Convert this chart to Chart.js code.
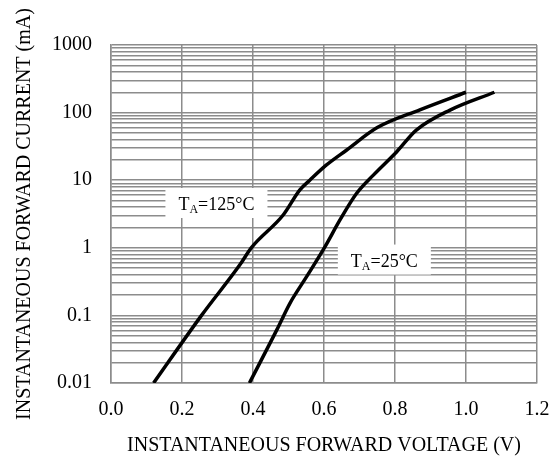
<!DOCTYPE html>
<html>
<head>
<meta charset="utf-8">
<script src="https://cdn.jsdelivr.net/npm/chart.js@4"></script>
<style>
    html, body { margin: 0; padding: 0; background: #fff; }
    #wrap { width: 555px; height: 462px; }
</style>
</head>
<body>
<div id="wrap"><canvas id="iv_chart"></canvas></div>
<script>
// Forward voltage (V) / forward current (mA)
const hotVolts = [0.12, 0.255, 0.363, 0.395, 0.485, 0.532, 0.56, 0.607, 0.664, 0.75, 0.87, 1.0];
const hotAmps = [0.01, 0.1, 0.56, 1, 3.06, 7.2, 10, 16.8, 28, 60, 110, 200];
const roomVolts = [0.39, 0.467, 0.504, 0.551, 0.603, 0.645, 0.692, 0.739, 0.805, 0.86, 0.955, 1.08];
const roomAmps = [0.01, 0.061, 0.151, 0.374, 1.04, 2.58, 6.4, 11.9, 26.4, 55, 109, 200];

const decades = [0.01, 0.1, 1, 10, 100, 1000];

// Curve labels: [main, subscript, rest], box centre in data units
const tagParts = [['T', 'A', '=125°C'], ['T', 'A', '=25°C']];
const tagX = [0.297, 0.77];
const tagY = [4.6, 0.67];

const serif = "'Liberation Serif', 'Times New Roman', serif";

const toPoints = (xs, ys) => xs.map((x, i) => ({ x: x, y: ys[i] }));

/* White boxes with the temperature labels, drawn over the grid but under the curves */
const tagPlugin = {
    id: 'tags',
    beforeDatasetsDraw(chart) {
        const ctx = chart.ctx;
        const xs = chart.scales.x;
        const ys = chart.scales.y;
        tagParts.forEach((parts, i) => {
            const cx = xs.getPixelForValue(tagX[i]);
            const cy = ys.getPixelForValue(tagY[i]);
            ctx.save();
            ctx.font = '18px ' + serif;
            const w1 = ctx.measureText(parts[0]).width;
            ctx.font = '12px ' + serif;
            const w2 = ctx.measureText(parts[1]).width;
            ctx.font = '18px ' + serif;
            const w3 = ctx.measureText(parts[2]).width;
            const total = w1 + w2 + w3;
            const boxW = total + 26;
            const boxH = 30;
            ctx.fillStyle = '#fff';
            ctx.fillRect(cx - boxW / 2, cy - boxH / 2, boxW, boxH);
            ctx.fillStyle = '#000';
            ctx.textBaseline = 'alphabetic';
            let x = cx - total / 2;
            const base = cy + 7;
            ctx.fillText(parts[0], x, base);
            x += w1;
            ctx.font = '12px ' + serif;
            ctx.fillText(parts[1], x, base + 3);
            x += w2;
            ctx.font = '18px ' + serif;
            ctx.fillText(parts[2], x, base);
            ctx.restore();
        });
    }
};

const lineStyle = {
    showLine: true,
    borderColor: '#000',
    borderWidth: 3.5,
    pointRadius: 0,
    cubicInterpolationMode: 'monotone',
    fill: false
};

new Chart(document.getElementById('iv_chart'), {
    type: 'scatter',
    data: {
        datasets: [
            Object.assign({ label: '125', data: toPoints(hotVolts, hotAmps) }, lineStyle),
            Object.assign({ label: '25', data: toPoints(roomVolts, roomAmps) }, lineStyle)
        ]
    },
    options: {
        responsive: true,
        maintainAspectRatio: false,
        animation: false,
        layout: { padding: { top: 45, right: 18, left: 0, bottom: 0 } },
        plugins: {
            legend: { display: false },
            tooltip: { enabled: false }
        },
        scales: {
            x: {
                type: 'linear',
                min: 0,
                max: 1.2,
                grid: { color: '#8c8c8c', lineWidth: 1.5, drawTicks: false },
                border: { color: '#8c8c8c', width: 1.5 },
                ticks: {
                    stepSize: 0.2,
                    padding: 15,
                    color: '#000',
                    font: { family: serif, size: 20 },
                    callback: v => v.toFixed(1)
                },
                title: {
                    display: true,
                    text: 'INSTANTANEOUS FORWARD VOLTAGE (V)',
                    color: '#000',
                    font: { family: serif, size: 20 },
                    padding: { top: 0, bottom: 4 }
                },
                afterFit: s => {
                    s.height = 79;
                    s.paddingLeft = 0;
                    s.paddingRight = 0;
                }
            },
            y: {
                type: 'logarithmic',
                min: 0.01,
                max: 1000,
                grid: { color: '#8c8c8c', lineWidth: 1.5, drawTicks: false },
                border: { color: '#8c8c8c', width: 1.5 },
                afterBuildTicks: s => {
                    const t = [];
                    decades.forEach((d, i) => {
                        if (i === decades.length - 1) { t.push({ value: d }); return; }
                        for (let m = 1; m < 10; m++) t.push({ value: +(d * m).toPrecision(3) });
                    });
                    s.ticks = t;
                },
                ticks: {
                    autoSkip: false,
                    padding: 19,
                    color: '#000',
                    font: { family: serif, size: 20 },
                    callback: v => decades.includes(v) ? String(v) : ''
                },
                title: {
                    display: true,
                    text: 'INSTANTANEOUS FORWARD CURRENT (mA)',
                    color: '#000',
                    font: { family: serif, size: 20 },
                    padding: { top: 13, bottom: 0 }
                },
                afterFit: s => {
                    s.width = 111;
                    s.paddingTop = 0;
                    s.paddingBottom = 0;
                }
            }
        }
    },
    plugins: [tagPlugin]
});
</script>
</body>
</html>
